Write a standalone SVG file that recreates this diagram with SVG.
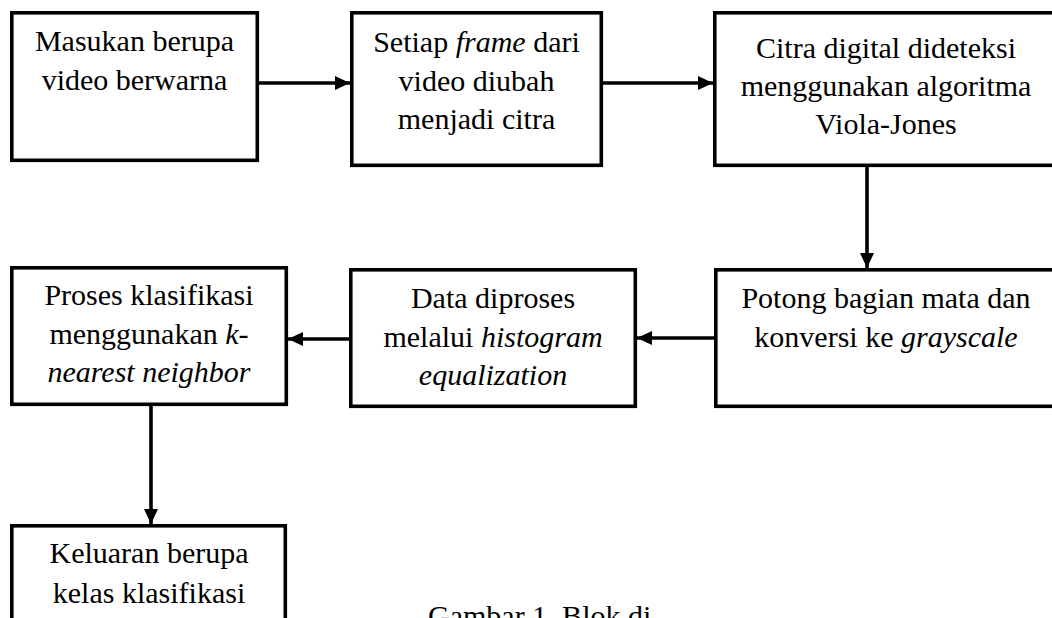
<svg xmlns="http://www.w3.org/2000/svg" width="1052" height="618" viewBox="0 0 1052 618">
<style>
.box{fill:#fff;stroke:#000;stroke-width:3.6}
.t{font-family:"Liberation Serif","Times New Roman",serif;font-size:30px;fill:#000;text-anchor:middle}
.i{font-style:italic}
.c{fill:none;stroke:#000;stroke-width:3.6}
</style>
<defs>
<marker id="ah" markerUnits="userSpaceOnUse" markerWidth="15" markerHeight="16" viewBox="0 0 15 16" refX="15" refY="8" orient="auto">
<polygon points="0,1 15,8 0,15" fill="#000"/>
</marker>
</defs>
<rect width="1052" height="618" fill="#fff"/>
<g id="connectors">
<line class="c" x1="259" y1="83" x2="350" y2="83" marker-end="url(#ah)"/>
<line class="c" x1="603" y1="83" x2="713" y2="83" marker-end="url(#ah)"/>
<line class="c" x1="867" y1="167" x2="867" y2="268" marker-end="url(#ah)"/>
<line class="c" x1="714" y1="338" x2="637" y2="338" marker-end="url(#ah)"/>
<line class="c" x1="349" y1="339" x2="288" y2="339" marker-end="url(#ah)"/>
<line class="c" x1="151" y1="406" x2="151" y2="524" marker-end="url(#ah)"/>
</g>
<g id="n1">
<rect class="box" x="11.8" y="12.8" width="245.5" height="147.5"/>
<text class="t" x="134.5" y="51">Masukan berupa</text>
<text class="t" x="134.5" y="90">video berwarna</text>
</g>
<g id="n2">
<rect class="box" x="351.8" y="12.8" width="249.5" height="152.5"/>
<text class="t" x="476.5" y="52">Setiap <tspan class="i">frame</tspan> dari</text>
<text class="t" x="476.5" y="91">video diubah</text>
<text class="t" x="476.5" y="129">menjadi citra</text>
</g>
<g id="n3">
<rect class="box" x="714.8" y="12.8" width="344" height="152.5"/>
<text class="t" x="886" y="58">Citra digital dideteksi</text>
<text class="t" x="886" y="96">menggunakan algoritma</text>
<text class="t" x="886" y="134">Viola-Jones</text>
</g>
<g id="n4">
<rect class="box" x="715.8" y="269.8" width="344" height="136.5"/>
<text class="t" x="886" y="308">Potong bagian mata dan</text>
<text class="t" x="886" y="347">konversi ke <tspan class="i">grayscale</tspan></text>
</g>
<g id="n5">
<rect class="box" x="350.8" y="269.8" width="284.5" height="136.5"/>
<text class="t" x="493" y="308">Data diproses</text>
<text class="t" x="493" y="347">melalui <tspan class="i">histogram</tspan></text>
<text class="t i" x="493" y="385">equalization</text>
</g>
<g id="n6">
<rect class="box" x="11.8" y="267.8" width="274.5" height="136.5"/>
<text class="t" x="149" y="305">Proses klasifikasi</text>
<text class="t" x="149" y="344">menggunakan <tspan class="i">k-</tspan></text>
<text class="t i" x="149" y="382">nearest neighbor</text>
</g>
<g id="n7">
<rect class="box" x="11.8" y="525.8" width="273.5" height="130"/>
<text class="t" x="149" y="563">Keluaran berupa</text>
<text class="t" x="149" y="603">kelas klasifikasi</text>
</g>
<text class="t" x="428" y="626" style="text-anchor:start">Gambar 1. Blok di</text>
</svg>
